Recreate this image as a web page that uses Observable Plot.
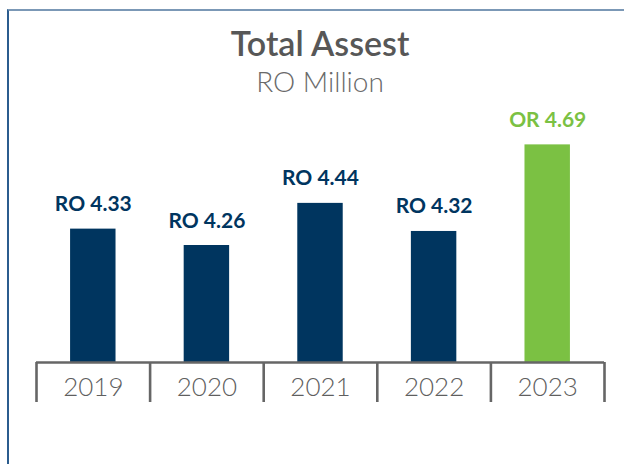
<!DOCTYPE html>
<html>
<head>
<meta charset="utf-8">
<script src="https://cdn.jsdelivr.net/npm/d3@7"></script>
<script src="https://cdn.jsdelivr.net/npm/@observablehq/plot@0.6"></script>
<style>
  html, body { margin: 0; padding: 0; background: #fff; }
  body { width: 624px; height: 464px; position: relative; overflow: hidden; font-family: Lato, "Open Sans", sans-serif; }
  #frame { position: absolute; left: 7px; top: 9px; width: 640px; height: 480px;
           border-top: 2px solid #7b98b6; border-left: 2px solid #2b5c8e; }
  #header { position: relative; height: 110px; }
  #title { position: absolute; left: 0; width: 640px; top: 26px; text-align: center;
           font-size: 34px; line-height: 34px; font-weight: 600; color: #575757; }
  #subtitle { position: absolute; left: 0; width: 640px; top: 67px; text-align: center;
              font-size: 28px; line-height: 28px; font-weight: 300; color: #6a6a6a; }
  #chart { position: relative; }
</style>
</head>
<body>
<div id="frame"></div>
<div id="header">
  <div id="title">Total Assest</div>
  <div id="subtitle">RO Million</div>
</div>
<div id="chart"></div>
<script>
const years = [2019, 2020, 2021, 2022, 2023];
const values = [4.33, 4.26, 4.44, 4.32, 4.69];
const labels = ["RO 4.33", "RO 4.26", "RO 4.44", "RO 4.32", "OR 4.69"];
const barColors = ["#00355f", "#00355f", "#00355f", "#00355f", "#7bc143"];
const yMin = 3.76;
const yMax = 4.76;

const data = years.map((year, i) => ({year, value: values[i], label: labels[i], color: barColors[i]}));
const boundaries = [years[0] - 0.5, ...years.map(y => y + 0.5)];

const chart = Plot.plot({
  width: 624,
  height: 354,
  marginLeft: 36,
  marginRight: 20,
  marginTop: 18,
  marginBottom: 102,
  style: {fontFamily: "Lato, 'Open Sans', sans-serif", background: "transparent", overflow: "visible"},
  x: {domain: [years[0] - 0.5, years[years.length - 1] + 0.5], axis: null},
  y: {domain: [yMin, yMax], axis: null},
  marks: [
    Plot.rectY(data, {x1: d => d.year - 0.2, x2: d => d.year + 0.2, y1: yMin, y2: "value", fill: "color"}),
    Plot.ruleY([yMin], {stroke: "#666666", strokeWidth: 2.6}),
    Plot.axisX(boundaries, {anchor: "bottom", label: null, tickSize: 40, tickFormat: () => "", stroke: "#666666", strokeWidth: 2.6, strokeOpacity: 1}),
    Plot.axisX(years, {anchor: "bottom", label: null, tickSize: 0, tickPadding: 15, tickFormat: d => String(d), fontSize: 26, fontWeight: 300, fill: "#5f5f5f"}),
    Plot.text(data, {x: "year", y: "value", text: "label", fill: "color", fontSize: 21, fontWeight: 700, lineAnchor: "bottom", dy: -18})
  ]
});
document.getElementById("chart").appendChild(chart);
</script>
</body>
</html>
